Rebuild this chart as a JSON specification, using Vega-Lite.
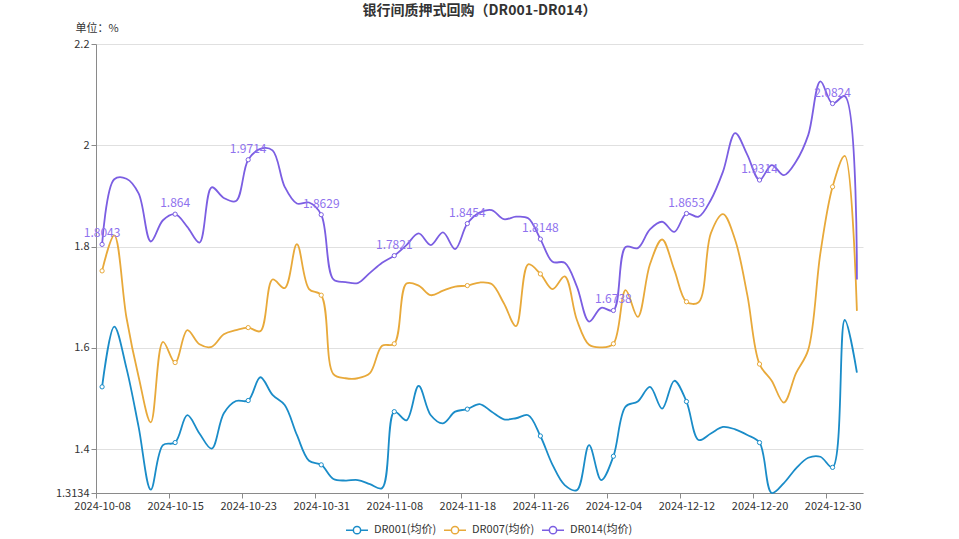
{
  "$schema": "https://vega.github.io/schema/vega-lite/v6.json",
  "autosize": {"type": "none"},
  "width": 767,
  "height": 449,
  "padding": {"left": 96, "top": 44, "right": 96, "bottom": 46},
  "background": "white",
  "config": {
    "font": "Noto Sans CJK SC",
    "view": {"stroke": null}
  },
  "title": {
    "text": "银行间质押式回购（DR001-DR014）",
    "anchor": "middle",
    "fontSize": 14,
    "fontWeight": "bold",
    "color": "#333333",
    "font": "Noto Sans CJK SC",
    "offset": 4
  },
  "data": {
    "values": [
      {"date": "2024-10-08", "DR001": 1.523, "DR007": 1.752, "DR014": 1.8043},
      {"date": "2024-10-09", "DR001": 1.642, "DR007": 1.822, "DR014": 1.933},
      {"date": "2024-10-10", "DR001": 1.560, "DR007": 1.660, "DR014": 1.934},
      {"date": "2024-10-11", "DR001": 1.444, "DR007": 1.543, "DR014": 1.905},
      {"date": "2024-10-12", "DR001": 1.320, "DR007": 1.453, "DR014": 1.810},
      {"date": "2024-10-14", "DR001": 1.408, "DR007": 1.612, "DR014": 1.852},
      {"date": "2024-10-15", "DR001": 1.413, "DR007": 1.571, "DR014": 1.864},
      {"date": "2024-10-16", "DR001": 1.467, "DR007": 1.635, "DR014": 1.839},
      {"date": "2024-10-17", "DR001": 1.431, "DR007": 1.607, "DR014": 1.808},
      {"date": "2024-10-18", "DR001": 1.401, "DR007": 1.602, "DR014": 1.917},
      {"date": "2024-10-21", "DR001": 1.471, "DR007": 1.627, "DR014": 1.896},
      {"date": "2024-10-22", "DR001": 1.495, "DR007": 1.635, "DR014": 1.890},
      {"date": "2024-10-23", "DR001": 1.496, "DR007": 1.640, "DR014": 1.9714},
      {"date": "2024-10-24", "DR001": 1.542, "DR007": 1.633, "DR014": 1.993},
      {"date": "2024-10-25", "DR001": 1.507, "DR007": 1.735, "DR014": 1.990},
      {"date": "2024-10-28", "DR001": 1.487, "DR007": 1.718, "DR014": 1.918},
      {"date": "2024-10-29", "DR001": 1.428, "DR007": 1.805, "DR014": 1.885},
      {"date": "2024-10-30", "DR001": 1.377, "DR007": 1.716, "DR014": 1.887},
      {"date": "2024-10-31", "DR001": 1.369, "DR007": 1.704, "DR014": 1.8629},
      {"date": "2024-11-01", "DR001": 1.341, "DR007": 1.548, "DR014": 1.735},
      {"date": "2024-11-04", "DR001": 1.338, "DR007": 1.540, "DR014": 1.730},
      {"date": "2024-11-05", "DR001": 1.339, "DR007": 1.540, "DR014": 1.728},
      {"date": "2024-11-06", "DR001": 1.331, "DR007": 1.550, "DR014": 1.748},
      {"date": "2024-11-07", "DR001": 1.323, "DR007": 1.604, "DR014": 1.768},
      {"date": "2024-11-08", "DR001": 1.474, "DR007": 1.608, "DR014": 1.7821},
      {"date": "2024-11-11", "DR001": 1.457, "DR007": 1.727, "DR014": 1.803},
      {"date": "2024-11-12", "DR001": 1.525, "DR007": 1.723, "DR014": 1.826},
      {"date": "2024-11-13", "DR001": 1.467, "DR007": 1.704, "DR014": 1.803},
      {"date": "2024-11-14", "DR001": 1.451, "DR007": 1.713, "DR014": 1.828},
      {"date": "2024-11-15", "DR001": 1.474, "DR007": 1.721, "DR014": 1.795},
      {"date": "2024-11-18", "DR001": 1.479, "DR007": 1.723, "DR014": 1.8454},
      {"date": "2024-11-19", "DR001": 1.489, "DR007": 1.729, "DR014": 1.867},
      {"date": "2024-11-20", "DR001": 1.474, "DR007": 1.726, "DR014": 1.872},
      {"date": "2024-11-21", "DR001": 1.459, "DR007": 1.688, "DR014": 1.854},
      {"date": "2024-11-22", "DR001": 1.461, "DR007": 1.643, "DR014": 1.859},
      {"date": "2024-11-25", "DR001": 1.467, "DR007": 1.765, "DR014": 1.856},
      {"date": "2024-11-26", "DR001": 1.426, "DR007": 1.746, "DR014": 1.8148},
      {"date": "2024-11-27", "DR001": 1.369, "DR007": 1.716, "DR014": 1.770},
      {"date": "2024-11-28", "DR001": 1.329, "DR007": 1.741, "DR014": 1.768},
      {"date": "2024-11-29", "DR001": 1.319, "DR007": 1.655, "DR014": 1.721},
      {"date": "2024-12-02", "DR001": 1.408, "DR007": 1.606, "DR014": 1.652},
      {"date": "2024-12-03", "DR001": 1.339, "DR007": 1.601, "DR014": 1.679},
      {"date": "2024-12-04", "DR001": 1.386, "DR007": 1.608, "DR014": 1.6738},
      {"date": "2024-12-05", "DR001": 1.484, "DR007": 1.714, "DR014": 1.799},
      {"date": "2024-12-06", "DR001": 1.494, "DR007": 1.661, "DR014": 1.797},
      {"date": "2024-12-09", "DR001": 1.523, "DR007": 1.765, "DR014": 1.834},
      {"date": "2024-12-10", "DR001": 1.480, "DR007": 1.814, "DR014": 1.849},
      {"date": "2024-12-11", "DR001": 1.535, "DR007": 1.754, "DR014": 1.829},
      {"date": "2024-12-12", "DR001": 1.494, "DR007": 1.691, "DR014": 1.8653},
      {"date": "2024-12-13", "DR001": 1.418, "DR007": 1.690, "DR014": 1.859},
      {"date": "2024-12-16", "DR001": 1.431, "DR007": 1.826, "DR014": 1.892},
      {"date": "2024-12-17", "DR001": 1.444, "DR007": 1.864, "DR014": 1.948},
      {"date": "2024-12-18", "DR001": 1.439, "DR007": 1.813, "DR014": 2.024},
      {"date": "2024-12-19", "DR001": 1.428, "DR007": 1.704, "DR014": 1.981},
      {"date": "2024-12-20", "DR001": 1.413, "DR007": 1.568, "DR014": 1.9314},
      {"date": "2024-12-23", "DR001": 1.3134, "DR007": 1.535, "DR014": 1.961},
      {"date": "2024-12-24", "DR001": 1.333, "DR007": 1.492, "DR014": 1.941},
      {"date": "2024-12-25", "DR001": 1.362, "DR007": 1.550, "DR014": 1.968},
      {"date": "2024-12-26", "DR001": 1.383, "DR007": 1.596, "DR014": 2.020},
      {"date": "2024-12-27", "DR001": 1.385, "DR007": 1.787, "DR014": 2.126},
      {"date": "2024-12-30", "DR001": 1.364, "DR007": 1.918, "DR014": 2.0824},
      {"date": "2024-12-31", "DR001": 1.655, "DR007": 1.979, "DR014": 2.097},
      {"date": "2025-01-02", "DR001": 1.551, "DR007": 1.673, "DR014": 1.735}
    ]
  },
  "transform": [
    {"fold": ["DR001", "DR007", "DR014"], "as": ["code", "value"]},
    {"lookup": "code", "from": {"data": {"values": [
      {"code": "DR001", "series": "DR001(均价)"},
      {"code": "DR007", "series": "DR007(均价)"},
      {"code": "DR014", "series": "DR014(均价)"}
    ]}, "key": "code", "fields": ["series"]}}
  ],
  "encoding": {
    "x": {
      "field": "date",
      "type": "ordinal",
      "sort": null,
      "scale": {"type": "point", "padding": 0.5},
      "axis": {
        "title": null,
        "values": ["2024-10-08", "2024-10-15", "2024-10-23", "2024-10-31", "2024-11-08", "2024-11-18", "2024-11-26", "2024-12-04", "2024-12-12", "2024-12-20", "2024-12-30"],
        "labelAngle": 0,
        "labelFontSize": 11,
        "labelColor": "#333333",
        "labelPadding": 2,
        "tickOffset": -6.09,
        "labelOffset": 6.09,
        "tickSize": 5,
        "tickColor": "#8a8a8a",
        "domainColor": "#8a8a8a",
        "grid": false
      }
    },
    "y": {
      "field": "value",
      "type": "quantitative",
      "scale": {"domain": [1.3134, 2.2], "nice": false, "zero": false},
      "axis": {
        "title": "单位：%",
        "titleAngle": 0,
        "titleAlign": "left",
        "titleBaseline": "middle",
        "titleX": -21,
        "titleY": -16,
        "titleFontSize": 11,
        "titleFontWeight": "normal",
        "titleColor": "#333333",
        "values": [1.3134, 1.4, 1.6, 1.8, 2, 2.2],
        "labelExpr": "format(datum.value, '~g')",
        "labelFontSize": 11,
        "labelColor": "#333333",
        "labelPadding": 2,
        "tickSize": 5,
        "tickColor": "#8a8a8a",
        "domainColor": "#8a8a8a",
        "gridColor": "#e0e0e0",
        "gridWidth": 1
      }
    },
    "color": {
      "field": "series",
      "type": "nominal",
      "scale": {
        "domain": ["DR001(均价)", "DR007(均价)", "DR014(均价)"],
        "range": ["#1a8cc8", "#e8a93a", "#7b5ee2"]
      },
      "legend": {
        "title": null,
        "orient": "none",
        "direction": "horizontal",
        "legendX": 249,
        "legendY": 474,
        "labelFontSize": 11,
        "labelColor": "#333333",
        "symbolType": "M-1,0L-0.33,0M0.33,0L1,0M-0.33,0A0.33,0.33 0 1,0 0.33,0A0.33,0.33 0 1,0 -0.33,0",
        "symbolSize": 484,
        "symbolStrokeWidth": 1.5,
        "symbolFillColor": "white",
        "columnPadding": 4,
        "labelOffset": 5
      }
    }
  },
  "layer": [
    {
      "mark": {"type": "line", "interpolate": "catmull-rom", "strokeWidth": 1.8}
    },
    {
      "transform": [
        {"filter": {"field": "date", "oneOf": ["2024-10-08", "2024-10-15", "2024-10-23", "2024-10-31", "2024-11-08", "2024-11-18", "2024-11-26", "2024-12-04", "2024-12-12", "2024-12-20", "2024-12-30"]}}
      ],
      "mark": {"type": "point", "filled": false, "fill": "white", "size": 18, "strokeWidth": 1, "opacity": 1}
    },
    {
      "transform": [
        {"filter": {"field": "date", "oneOf": ["2024-10-08", "2024-10-15", "2024-10-23", "2024-10-31", "2024-11-08", "2024-11-18", "2024-11-26", "2024-12-04", "2024-12-12", "2024-12-20", "2024-12-30"]}},
        {"filter": {"field": "code", "equal": "DR014"}}
      ],
      "mark": {"type": "text", "dy": -11, "fontSize": 12, "color": "#8f72ee"},
      "encoding": {
        "text": {"field": "value", "type": "quantitative", "format": "~g"},
        "color": {"value": "#8f72ee"}
      }
    }
  ]
}
